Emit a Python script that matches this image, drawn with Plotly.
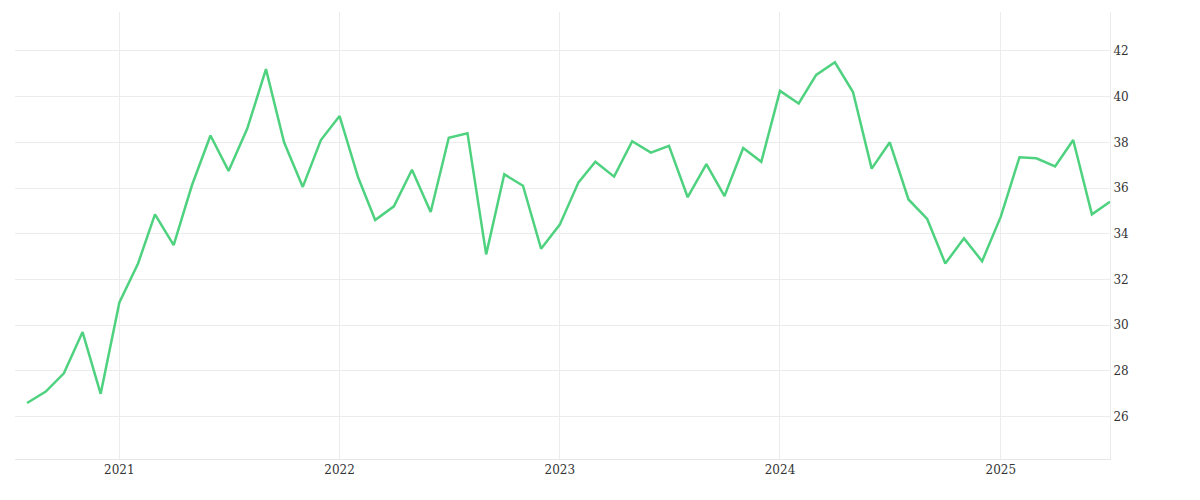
import plotly.graph_objects as go
import pandas as pd

dates = pd.date_range("2020-08-01", "2025-07-01", freq="MS")
values = [26.6, 27.1, 27.9, 29.7, 27.0,
          31.0, 32.7, 34.85, 33.5, 36.1, 38.3, 36.75, 38.6, 41.2, 38.0, 36.05, 38.1,
          39.15, 36.45, 34.6, 35.2, 36.8, 34.95, 38.2, 38.4, 33.1, 36.6, 36.1, 33.35,
          34.4, 36.25, 37.15, 36.5, 38.05, 37.55, 37.85, 35.6, 37.05, 35.65, 37.75, 37.15,
          40.25, 39.7, 40.95, 41.5, 40.2, 36.85, 38.0, 35.5, 34.65, 32.7, 33.8, 32.8,
          34.75, 37.35, 37.3, 36.95, 38.1, 34.85, 35.4]
year_ticks = ["2021-01-01", "2022-01-01", "2023-01-01", "2024-01-01", "2025-01-01"]
year_labels = ["2021", "2022", "2023", "2024", "2025"]
y_ticks = list(range(26, 43, 2))

fig = go.Figure(go.Scatter(x=dates, y=values, mode="lines",
                           line=dict(color="#4fd27f", width=2.5)))
fig.update_layout(
    width=1200, height=500, margin=dict(l=7, r=98, t=4, b=49),
    paper_bgcolor="white", plot_bgcolor="white", showlegend=False,
    font=dict(family="DejaVu Serif", size=12, color="#333"),
    xaxis=dict(range=["2020-07-12", "2025-07-01"], tickvals=year_ticks, ticktext=year_labels,
               showgrid=True, gridcolor="#ececec", showline=True, linecolor="#e6e6e6",
               zeroline=False, ticks=""),
    yaxis=dict(side="right", range=[24.15, 43.7], tickvals=y_ticks,
               showgrid=True, gridcolor="#ececec", showline=True, linecolor="#ececec",
               zeroline=False, ticks=""),
)
fig.write_html("out.html")
